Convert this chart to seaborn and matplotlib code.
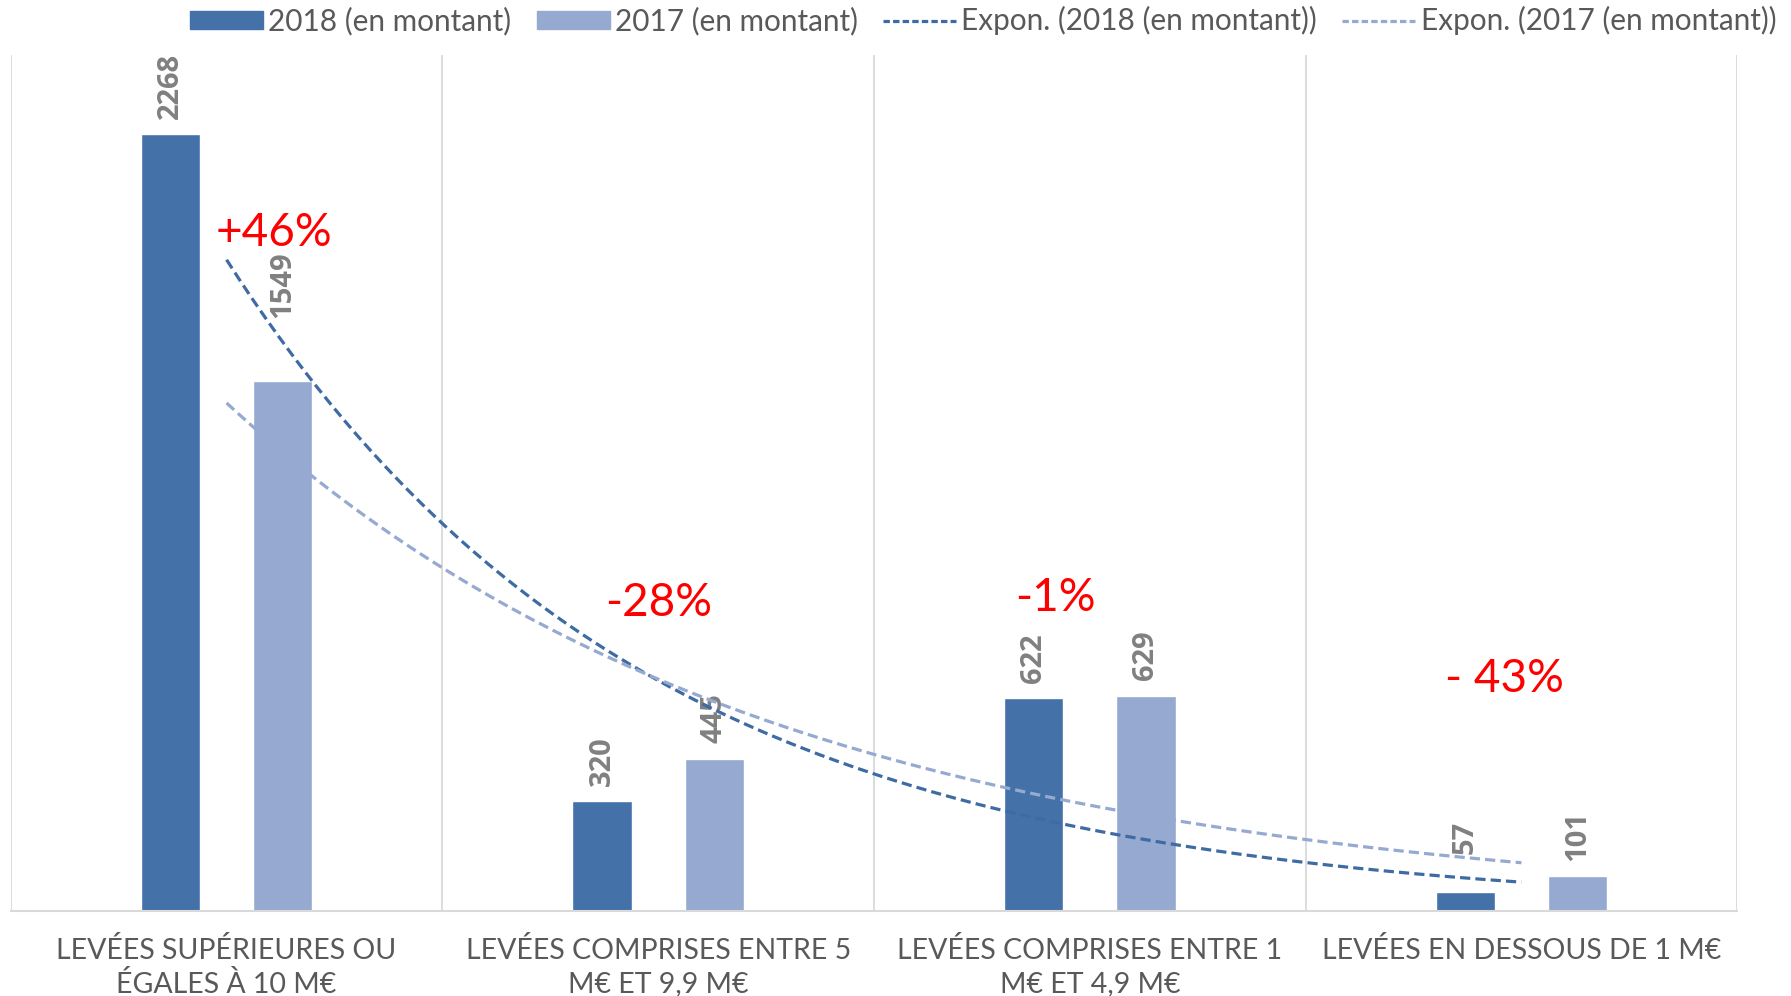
import numpy as np
import pandas as pd
import matplotlib
matplotlib.use("Agg")
import matplotlib.pyplot as plt
import seaborn as sns
from matplotlib.patches import Patch
from matplotlib.lines import Line2D

# données
categories = [
    "LEVÉES SUPÉRIEURES OU\nÉGALES À 10 M€",
    "LEVÉES COMPRISES ENTRE 5\nM€ ET 9,9 M€",
    "LEVÉES COMPRISES ENTRE 1\nM€ ET 4,9 M€",
    "LEVÉES EN DESSOUS DE 1 M€",
]
values_2018 = [2268, 320, 622, 57]
values_2017 = [1549, 445, 629, 101]
series_names = ["2018 (en montant)", "2017 (en montant)"]
pct_labels = ["+46%", "-28%", "-1%", "- 43%"]

# style
c18 = "#4472A8"
c17 = "#95A9D1"
grey_txt = "#595959"
font = ["Lato", "DejaVu Sans"]

sns.set_theme(style="white")
plt.rcParams["font.family"] = font

df = pd.DataFrame({
    "cat": categories * 2,
    "serie": [series_names[0]] * 4 + [series_names[1]] * 4,
    "val": values_2018 + values_2017,
})

fig = plt.figure(figsize=(17.91, 9.96), dpi=100)
ax = fig.add_axes([0.006, 0.0853, 0.964, 0.8595])

sns.barplot(data=df, x="cat", y="val", hue="serie", order=categories,
            hue_order=series_names, palette=[c18, c17], width=0.52, gap=0.47,
            saturation=1, legend=False, ax=ax)

ax.set_xlim(-0.5, 3.5)
ax.set_ylim(0, 2500)
ax.set_yticks([])
ax.set_xlabel("")
ax.set_ylabel("")

# séparateurs verticaux
for xv in [-0.5, 0.5, 1.5, 2.5, 3.5]:
    ax.axvline(xv, color="#d9d9d9", lw=1.3, zorder=0)
for s in ["top", "right", "left"]:
    ax.spines[s].set_visible(False)
ax.spines["bottom"].set_color("#d9d9d9")
ax.spines["bottom"].set_linewidth(1.5)

ax.tick_params(axis="x", length=0, pad=19, labelsize=20.5, labelcolor=grey_txt)
for t in ax.get_xticklabels():
    t.set_multialignment("center")
    t.set_linespacing(1.3)

# étiquettes de données
offsets = [[11, 11, 11, 27], [45, 11, 11, 11]]
for i, cont in enumerate(ax.containers):
    vals = [values_2018, values_2017][i]
    for j, bar in enumerate(cont):
        ax.annotate(str(vals[j]), (bar.get_x() + bar.get_width() / 2, bar.get_height()),
                    xytext=(0, offsets[i][j]), textcoords="offset points",
                    rotation=90, ha="center", va="bottom", fontsize=21,
                    fontweight="bold", color="#808080",
                    family=["Open Sans", "DejaVu Sans"])

# courbes de tendance exponentielles (comme Excel)
xs = np.arange(4)
xfit = np.linspace(0, 3, 200)
for vals, col in [(values_2018, "#3E6BA3"), (values_2017, c17)]:
    b, a = np.polyfit(xs, np.log(vals), 1)
    ax.plot(xfit, np.exp(a + b * xfit), color=col, lw=2.3,
            dashes=(3.2, 1.6), zorder=3)

# variations
pct_pos = [(0.11, 1980), (1.0, 900), (1.92, 915), (2.96, 677)]
for lab, (px, py) in zip(pct_labels, pct_pos):
    ax.text(px, py, lab, color="red", fontsize=33, ha="center", va="center")

# légende
handles = [
    Patch(color=c18, label="2018 (en montant)"),
    Patch(color=c17, label="2017 (en montant)"),
    Line2D([0], [0], color="#3E6BA3", lw=2.3, dashes=(2, 1), label="Expon. (2018 (en montant))"),
    Line2D([0], [0], color=c17, lw=2.3, dashes=(2, 1), label="Expon. (2017 (en montant))"),
]
leg = fig.legend(handles=handles, loc="center", bbox_to_anchor=(0.549, 0.979), ncol=4,
                 frameon=False, fontsize=21.4, handlelength=2.45, handleheight=0.52,
                 handletextpad=0.18, columnspacing=0.85, borderaxespad=0)
for t in leg.get_texts():
    t.set_color(grey_txt)

fig.savefig("out.png", dpi=100)
